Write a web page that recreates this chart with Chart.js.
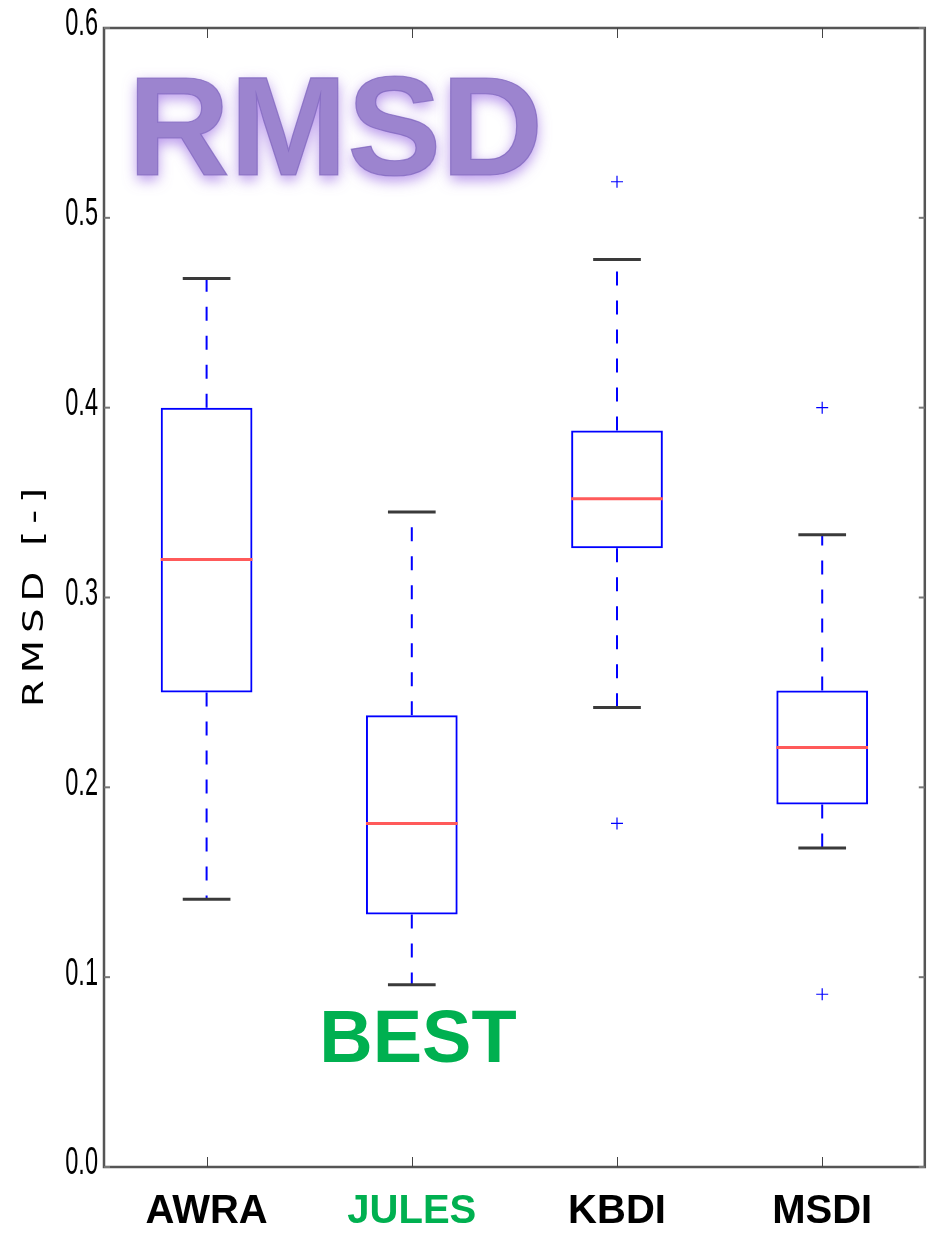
<!DOCTYPE html>
<html>
<head>
<meta charset="utf-8">
<script src="https://cdn.jsdelivr.net/npm/chart.js@4.4.1/dist/chart.umd.min.js"></script>
<style>
  html, body { margin: 0; padding: 0; background: #ffffff; }
  canvas { display: block; }
</style>
</head>
<body>
<canvas id="c" width="932" height="1239"></canvas>
<script>
// ---- data ----
const categories = ['AWRA', 'JULES', 'KBDI', 'MSDI'];
const whiskerLow  = [0.141, 0.096, 0.242, 0.168];
const q1          = [0.250, 0.133, 0.326, 0.191];
const median      = [0.320, 0.181, 0.352, 0.221];
const q3          = [0.400, 0.238, 0.388, 0.251];
const whiskerHigh = [0.468, 0.345, 0.478, 0.333];
const outliersHigh = [null, null, 0.519, 0.400];
const outliersLow  = [null, null, 0.181, 0.091];
const yTickValues = [0.0, 0.1, 0.2, 0.3, 0.4, 0.5, 0.6];
const yTickLabels = ['0.0', '0.1', '0.2', '0.3', '0.4', '0.5', '0.6'];
const labelColors = ['#000000', '#00b050', '#000000', '#000000'];
const yTitle = 'RMSD [-]';
const bigTitle = 'RMSD';
const noteText = 'BEST';

const BLUE = '#0000ff';

const boxPlugin = {
  id: 'boxParts',
  afterDatasetsDraw(chart) {
    const ctx = chart.ctx;
    const xs = chart.scales.x, ys = chart.scales.y;
    const meta = chart.getDatasetMeta(0);
    ctx.save();
    categories.forEach((c, i) => {
      const el = meta.data[i];
      const cx = xs.getPixelForValue(i);
      const bw = el.width;
      const capHalf = bw * 0.26;
      const yLo = ys.getPixelForValue(whiskerLow[i]);
      const yQ1 = ys.getPixelForValue(q1[i]);
      const yQ3 = ys.getPixelForValue(q3[i]);
      const yHi = ys.getPixelForValue(whiskerHigh[i]);
      const yMed = ys.getPixelForValue(median[i]);
      ctx.strokeStyle = BLUE;
      ctx.lineWidth = 2;
      ctx.setLineDash([14, 15]);
      ctx.beginPath(); ctx.moveTo(cx, yQ3); ctx.lineTo(cx, yHi); ctx.stroke();
      ctx.beginPath(); ctx.moveTo(cx, yQ1); ctx.lineTo(cx, yLo); ctx.stroke();
      ctx.setLineDash([]);
      ctx.strokeStyle = '#3a3a3a';
      ctx.lineWidth = 3;
      ctx.beginPath(); ctx.moveTo(cx - capHalf, yHi); ctx.lineTo(cx + capHalf, yHi); ctx.stroke();
      ctx.beginPath(); ctx.moveTo(cx - capHalf, yLo); ctx.lineTo(cx + capHalf, yLo); ctx.stroke();
      ctx.strokeStyle = '#ff5a5a';
      ctx.lineWidth = 3;
      ctx.beginPath(); ctx.moveTo(cx - bw / 2, yMed); ctx.lineTo(cx + bw / 2, yMed); ctx.stroke();
    });
    ctx.restore();
  },
  afterDraw(chart) {
    const ctx = chart.ctx;
    const a = chart.chartArea;
    const xs = chart.scales.x, ys = chart.scales.y;
    ctx.save();
    ctx.strokeStyle = '#555555';
    ctx.lineWidth = 2.5;
    ctx.strokeRect(a.left, a.top, a.right - a.left, a.bottom - a.top);
    ctx.strokeStyle = '#444444';
    ctx.lineWidth = 1;
    categories.forEach((c, i) => {
      const x = Math.round(xs.getPixelForValue(i)) + 0.5;
      ctx.beginPath(); ctx.moveTo(x, a.bottom); ctx.lineTo(x, a.bottom - 10); ctx.stroke();
      ctx.beginPath(); ctx.moveTo(x, a.top); ctx.lineTo(x, a.top + 10); ctx.stroke();
    });
    ctx.strokeStyle = '#777777';
    ctx.lineWidth = 2;
    yTickValues.forEach(v => {
      const y = ys.getPixelForValue(v);
      ctx.beginPath(); ctx.moveTo(a.left, y); ctx.lineTo(a.left + 6, y); ctx.stroke();
      ctx.beginPath(); ctx.moveTo(a.right, y); ctx.lineTo(a.right - 6, y); ctx.stroke();
    });
    ctx.fillStyle = '#000000';
    ctx.font = '38px "Liberation Sans", Arial, sans-serif';
    ctx.textAlign = 'right';
    ctx.textBaseline = 'middle';
    yTickValues.forEach((v, k) => {
      const y = ys.getPixelForValue(v);
      ctx.save();
      ctx.translate(a.left - 6, y - 3);
      ctx.scale(0.62, 1);
      ctx.fillText(yTickLabels[k], 0, 0);
      ctx.restore();
    });
    ctx.save();
    ctx.translate(43, 594);
    ctx.rotate(-Math.PI / 2);
    ctx.scale(1.38, 1);
    ctx.font = '28px "DejaVu Sans", sans-serif';
    ctx.letterSpacing = '5px';
    ctx.textAlign = 'center';
    ctx.textBaseline = 'alphabetic';
    ctx.fillStyle = '#000000';
    ctx.fillText(yTitle, 0, 0);
    ctx.restore();
    ctx.save();
    ctx.font = 'bold 141px "Liberation Sans", Arial, sans-serif';
    ctx.textAlign = 'left';
    ctx.textBaseline = 'alphabetic';
    ctx.shadowColor = 'rgba(150, 100, 225, 0.7)';
    ctx.shadowBlur = 14;
    ctx.shadowOffsetX = 0;
    ctx.shadowOffsetY = 5;
    ctx.fillStyle = '#9c84cf';
    ctx.fillText(bigTitle, 128, 175);
    ctx.shadowColor = 'rgba(0,0,0,0)';
    ctx.strokeStyle = 'rgba(125, 100, 190, 0.7)';
    ctx.lineWidth = 1.2;
    ctx.strokeText(bigTitle, 128, 175);
    ctx.restore();
    ctx.font = 'bold 74px "Liberation Sans", Arial, sans-serif';
    ctx.textAlign = 'center';
    ctx.textBaseline = 'alphabetic';
    ctx.fillStyle = '#00b050';
    ctx.fillText(noteText, 418, 1062);
    ctx.restore();
  }
};

new Chart(document.getElementById('c'), {
  type: 'bar',
  data: {
    labels: categories,
    datasets: [
      {
        label: 'box',
        data: categories.map((c, i) => [q1[i], q3[i]]),
        backgroundColor: 'rgba(0,0,0,0)',
        borderColor: BLUE,
        borderWidth: 2,
        borderSkipped: false,
        barPercentage: 0.447,
        categoryPercentage: 1.0
      },
      {
        type: 'line',
        label: 'outliers high',
        data: outliersHigh,
        showLine: false,
        pointStyle: 'cross',
        pointRadius: 6,
        borderColor: BLUE,
        borderWidth: 1.2,
        backgroundColor: BLUE
      },
      {
        type: 'line',
        label: 'outliers low',
        data: outliersLow,
        showLine: false,
        pointStyle: 'cross',
        pointRadius: 6,
        borderColor: BLUE,
        borderWidth: 1.2,
        backgroundColor: BLUE
      }
    ]
  },
  options: {
    responsive: false,
    animation: false,
    devicePixelRatio: 1,
    layout: { padding: { left: 0, top: 28, right: 4, bottom: 0 } },
    plugins: { legend: { display: false }, tooltip: { enabled: false } },
    scales: {
      x: {
        grid: { display: false, drawTicks: false },
        border: { display: false },
        ticks: {
          padding: 21,
          font: { family: '"Liberation Sans", Arial, sans-serif', size: 40, weight: 'bold' },
          color: (ctx) => labelColors[ctx.index] || '#000'
        },
        afterFit(scale) { scale.height = 72; scale.paddingLeft = 0; scale.paddingRight = 0; }
      },
      y: {
        min: 0,
        max: 0.6,
        grid: { display: false, drawTicks: false },
        border: { display: false },
        ticks: { display: false, stepSize: 0.1 },
        afterFit(scale) { scale.width = 104; scale.paddingTop = 0; scale.paddingBottom = 0; }
      }
    }
  },
  plugins: [boxPlugin]
});
</script>
</body>
</html>
